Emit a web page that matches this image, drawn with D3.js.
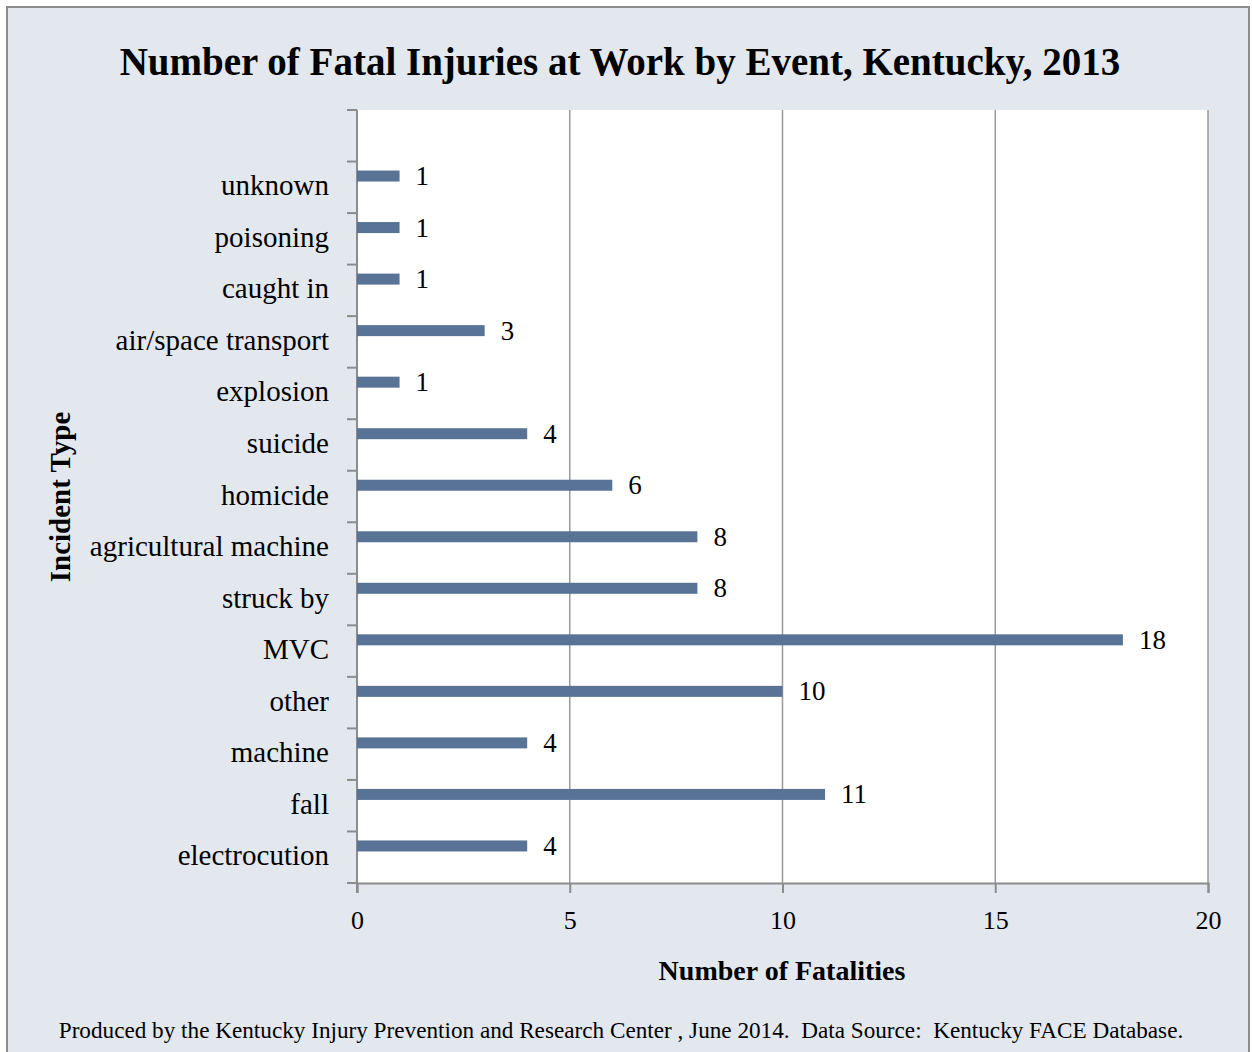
<!DOCTYPE html>
<html>
<head>
<meta charset="utf-8">
<script src="https://cdn.jsdelivr.net/npm/d3@7"></script>
<style>
  body { margin: 0; background: #fff; }
  text { font-family: "Liberation Serif", "DejaVu Serif", serif; fill: #000; }
</style>
</head>
<body>
<svg id="chart" width="1252" height="1052"></svg>
<script>
// values, bottom to top as in the picture
var categories = ["electrocution", "fall", "machine", "other", "MVC", "struck by",
  "agricultural machine", "homicide", "suicide", "explosion", "air/space transport",
  "caught in", "poisoning", "unknown"];
var fatalities = [4, 11, 4, 10, 18, 8, 8, 6, 4, 1, 3, 1, 1, 1];
var xTicks = [0, 5, 10, 15, 20];

var svg = d3.select("#chart");

// panel
svg.append("rect").attr("x", 7).attr("y", 7).attr("width", 1242).attr("height", 1060)
  .attr("fill", "#e3e8ef").attr("stroke", "#8c8c8c").attr("stroke-width", 2);

var plotLeft = 357, plotRight = 1208, plotTop = 110, plotBottom = 883;

var x = d3.scaleLinear().domain([0, 20]).range([plotLeft, plotRight]);
// Excel leaves one empty slot above the top category
var y = d3.scaleBand().domain(categories.concat([""])).range([plotBottom, plotTop]);

svg.append("rect").attr("x", plotLeft).attr("y", plotTop)
  .attr("width", plotRight - plotLeft).attr("height", plotBottom - plotTop).attr("fill", "#fff");

// grid
svg.append("g").selectAll("line").data(xTicks.slice(1)).enter().append("line")
  .attr("x1", d => x(d)).attr("x2", d => x(d))
  .attr("y1", plotTop).attr("y2", plotBottom)
  .attr("stroke", "#9a9a9a").attr("stroke-width", 1.5);

// x axis
var xAxis = svg.append("g").attr("transform", "translate(0," + plotBottom + ")")
  .call(d3.axisBottom(x).tickValues(xTicks).tickSize(10).tickPadding(18));
xAxis.select(".domain").attr("stroke", "#8c8c8c").attr("stroke-width", 2);
xAxis.selectAll(".tick line").attr("stroke", "#8c8c8c").attr("stroke-width", 2);
xAxis.selectAll("text").attr("font-size", 26).style("font-family", "Liberation Serif, serif").attr("fill", "#000");

// y axis: ticks on band edges
var edges = y.domain().map(d => y(d)).concat([plotBottom]);
var yg = svg.append("g");
yg.append("line").attr("x1", plotLeft).attr("x2", plotLeft).attr("y1", plotTop).attr("y2", plotBottom + 10)
  .attr("stroke", "#8c8c8c").attr("stroke-width", 2);
yg.selectAll(".tk").data(edges).enter().append("line")
  .attr("x1", plotLeft - 10).attr("x2", plotLeft).attr("y1", d => d).attr("y2", d => d)
  .attr("stroke", "#8c8c8c").attr("stroke-width", 2);
yg.selectAll(".lab").data(categories).enter().append("text")
  .attr("x", plotLeft - 28).attr("y", d => y(d) + y.bandwidth() / 2 + 8)
  .attr("text-anchor", "end").attr("font-size", 29).text(d => d);

// bars
var barH = 11;
svg.append("g").selectAll("rect").data(fatalities).enter().append("rect")
  .attr("x", x(0)).attr("y", (d, i) => y(categories[i]) + 9)
  .attr("width", d => x(d) - x(0)).attr("height", barH)
  .attr("fill", "#587396");

svg.append("g").selectAll("text").data(fatalities).enter().append("text")
  .attr("x", d => x(d) + 16).attr("y", (d, i) => y(categories[i]) + 9 + barH / 2 + 9)
  .attr("font-size", 27).text(d => d);

// titles
svg.append("text").attr("x", 620).attr("y", 75).attr("text-anchor", "middle")
  .attr("font-size", 39).attr("font-weight", "bold")
  .text("Number of Fatal Injuries at Work by Event, Kentucky, 2013");

svg.append("text").attr("x", 782).attr("y", 980).attr("text-anchor", "middle")
  .attr("font-size", 28).attr("font-weight", "bold").text("Number of Fatalities");

svg.append("text").attr("transform", "translate(70,497) rotate(-90)")
  .attr("text-anchor", "middle").attr("font-size", 29).attr("font-weight", "bold")
  .text("Incident Type");

svg.append("text").attr("x", 621).attr("y", 1038).attr("text-anchor", "middle")
  .attr("font-size", 23.2)
  .style("white-space", "pre")
  .text("Produced by the Kentucky Injury Prevention and Research Center , June 2014.  Data Source:  Kentucky FACE Database.");
</script>
</body>
</html>
